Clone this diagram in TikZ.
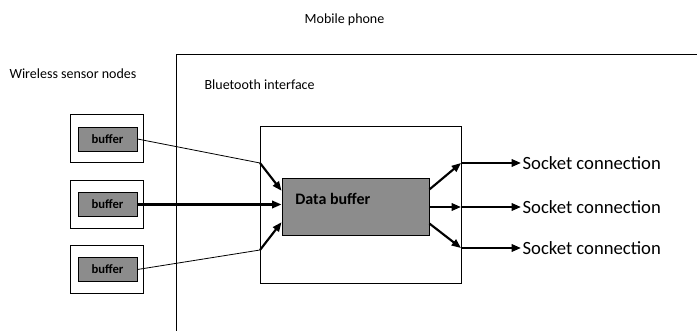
\documentclass[tikz,border=0pt]{standalone}
\usepackage{fontspec}
\setmainfont{Carlito}
\usetikzlibrary{arrows.meta}
\tikzset{box/.style={draw, line width=0.7pt, inner sep=0pt},
         graybox/.style={box, fill=black!45, font=\bfseries\fontsize{9.5}{10}\selectfont},
         lbl/.style={inner sep=1pt, font=\fontsize{10.5}{12}\selectfont},
         sock/.style={inner sep=1pt, anchor=west, font=\fontsize{14}{16}\selectfont},
         thn/.style={line width=0.6pt},
         thk/.style={line width=1.6pt, -{Triangle[length=7pt,width=5.5pt]}}}

\begin{document}
\begin{tikzpicture}[x=0.75pt,y=-0.75pt]
  \useasboundingbox (0,0) rectangle (697,331);
  \draw[box] (176,331) -- (176,54) -- (697,54);
  \node[lbl] (phone) at (344.5,20) {Mobile phone};
  \node[lbl] (wsn) at (73,74) {Wireless sensor nodes};
  \node[lbl, anchor=west] (bti) at (203,85) {Bluetooth interface};
  \node[box, minimum width=150.75pt, minimum height=117.75pt] (bt) at (360.5,204.5) {};
  \node[box, fill=black!45, minimum width=110.25pt, minimum height=42.75pt] (db) at (355.5,206.5) {};
  \node[anchor=west, inner sep=0pt, font=\bfseries\fontsize{12}{14}\selectfont] (dbt) at (295,199) {Data buffer};
  \node[box, minimum width=54.75pt, minimum height=36pt] (s1) at (106.5,138) {};
  \node[box, minimum width=54.75pt, minimum height=36pt] (s2) at (106.5,204) {};
  \node[box, minimum width=54.75pt, minimum height=36pt] (s3) at (106.5,269) {};
  \node[graybox, minimum width=44.25pt, minimum height=18pt] (b1) at (107.5,139) {buffer};
  \node[graybox, minimum width=44.25pt, minimum height=18pt] (b2) at (107.5,204.5) {buffer};
  \node[graybox, minimum width=44.25pt, minimum height=18pt] (b3) at (107.5,269.5) {buffer};
  \coordinate (in1) at (260,163);
  \coordinate (in3) at (260,250);
  \draw[thn] (b1.east) -- (in1);
  \draw[thk] (in1) -- (db.168);
  \draw[thk] (b2.east) -- (b2.east -| db.west);
  \draw[thn] (b3.east) -- (in3);
  \draw[thk] (in3) -- (db.192);
  \coordinate (o1) at (461,163);
  \coordinate (o2) at (461,207);
  \coordinate (o3) at (461,248);
  \node[sock] (sc1) at (521,163) {Socket connection};
  \node[sock] (sc2) at (521,207) {Socket connection};
  \node[sock] (sc3) at (521,248) {Socket connection};
  \draw[thk] (db.13) -- (o1);
  \draw[thk] (db.east |- o2) -- (o2);
  \draw[thk] (db.347) -- (o3);
  \draw[thk] (o1) -- (sc1.west);
  \draw[thk] (o2) -- (sc2.west);
  \draw[thk] (o3) -- (sc3.west);
\end{tikzpicture}
\end{document}
